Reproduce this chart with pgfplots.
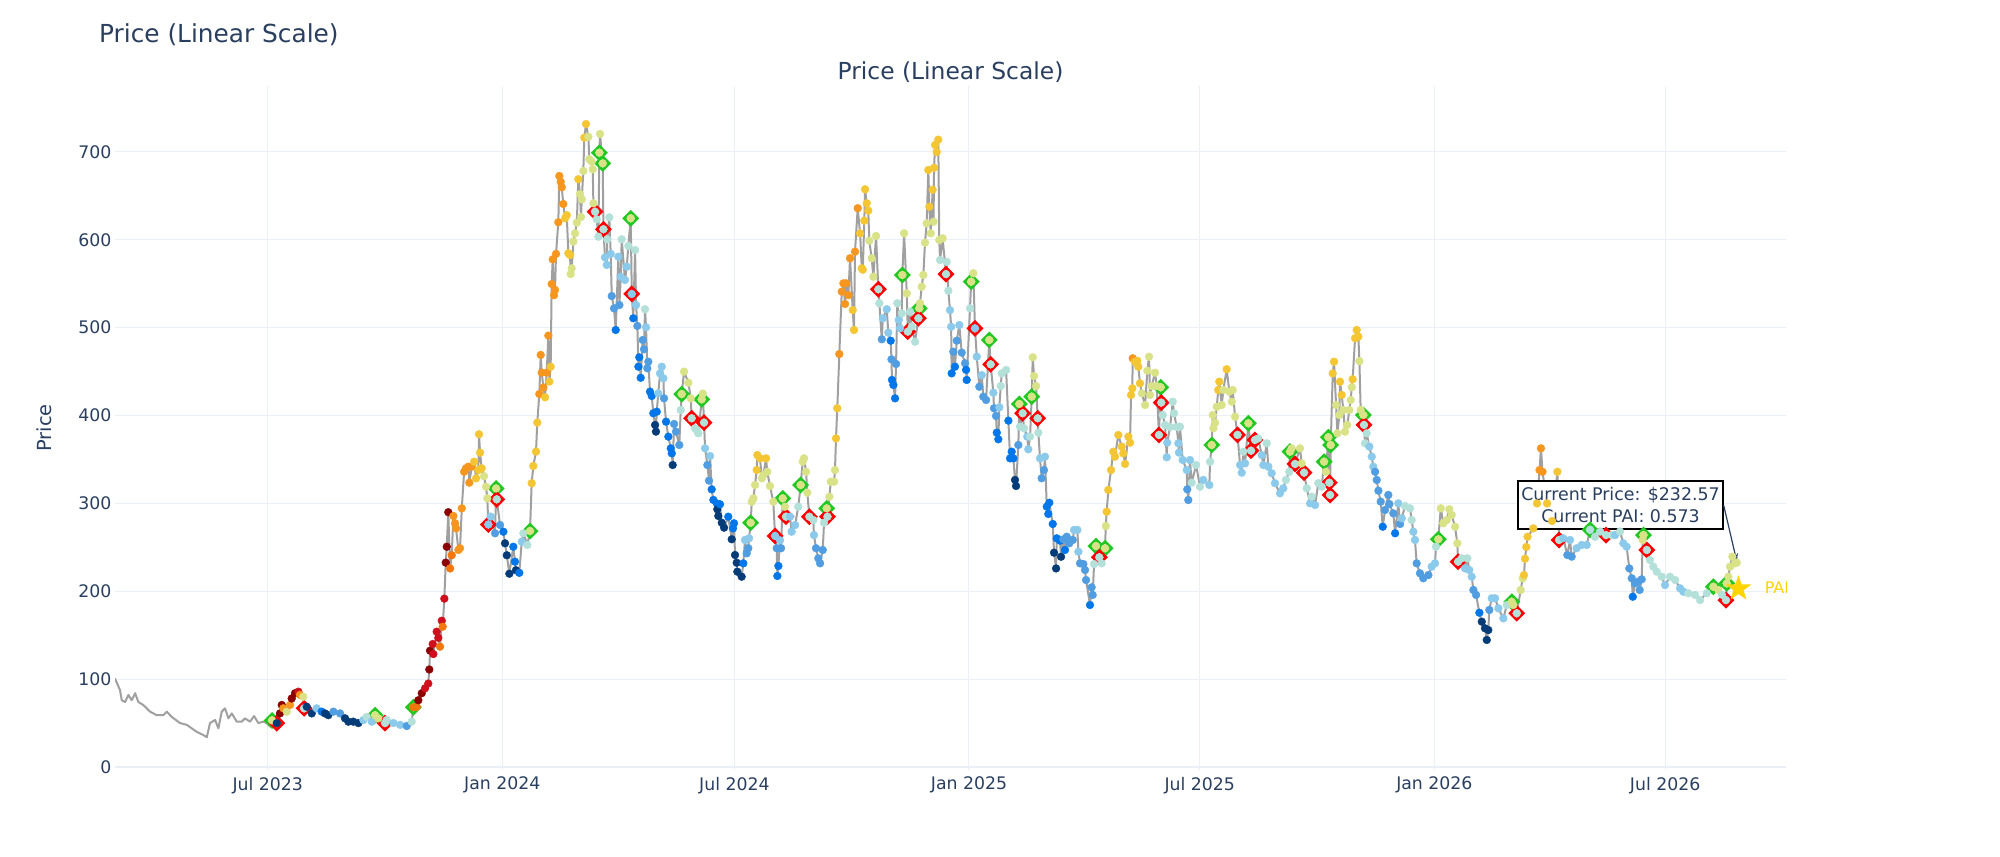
\documentclass[border=0pt]{standalone}
\usepackage{fontspec}
\setmainfont{DejaVu Sans}
\usepackage{pgfplots}
\pgfplotsset{compat=1.18}
\usepackage{pgfplotstable}
\usetikzlibrary{arrows.meta}

\definecolor{txt}{RGB}{42,63,95}
\definecolor{gridc}{RGB}{235,240,248}
\definecolor{lineg}{RGB}{160,160,160}
\definecolor{cDR}{RGB}{139,0,0}
\definecolor{cR}{RGB}{206,16,30}
\definecolor{cDO}{RGB}{245,118,10}
\definecolor{cO}{RGB}{247,150,30}
\definecolor{cG}{RGB}{244,198,52}
\definecolor{cYG}{RGB}{218,226,135}
\definecolor{cPC}{RGB}{180,224,218}
\definecolor{cLB}{RGB}{140,202,235}
\definecolor{cMB}{RGB}{80,158,225}
\definecolor{cB}{RGB}{0,118,235}
\definecolor{cDB}{RGB}{5,60,120}
\definecolor{buyc}{RGB}{34,200,34}
\definecolor{sellc}{RGB}{255,0,0}
\definecolor{starc}{RGB}{255,212,0}

\pgfdeclareplotmark{fstar}{%
 \pgfpathmoveto{\pgfpointpolar{90}{\pgfplotmarksize}}%
 \pgfpathlineto{\pgfpointpolar{126}{0.4\pgfplotmarksize}}%
 \pgfpathlineto{\pgfpointpolar{162}{\pgfplotmarksize}}%
 \pgfpathlineto{\pgfpointpolar{198}{0.4\pgfplotmarksize}}%
 \pgfpathlineto{\pgfpointpolar{234}{\pgfplotmarksize}}%
 \pgfpathlineto{\pgfpointpolar{270}{0.4\pgfplotmarksize}}%
 \pgfpathlineto{\pgfpointpolar{306}{\pgfplotmarksize}}%
 \pgfpathlineto{\pgfpointpolar{342}{0.4\pgfplotmarksize}}%
 \pgfpathlineto{\pgfpointpolar{18}{\pgfplotmarksize}}%
 \pgfpathlineto{\pgfpointpolar{54}{0.4\pgfplotmarksize}}%
 \pgfpathclose\pgfusepathqfill}

\newcommand\tickfont{\fontsize{17.3bp}{20.8bp}\selectfont}
\newcommand\labfont{\fontsize{19.4bp}{23bp}\selectfont}
\newcommand\annfont{\fontsize{17.4bp}{22bp}\selectfont}

% x = days since 2023-01-01, p = price
\pgfplotstableread{
d p
61.1 101
65.1 87.6
66.5 76
69.1 74
71.7 82
74.3 76
77.0 84
79.5 74
83.4 70.6
88.7 63
93.9 59
99.1 59
101.8 63
105.7 57
112.2 50
117.5 48
121.4 44
125.3 40
130.5 36.4
133.2 33.8
135.7 50
139.7 53.5
142.3 44
144.9 63
147.5 66.8
150.1 55.4
152.8 61
156.7 51.6
160.6 51.6
163.2 55.4
167.1 51.6
170.3 58
173.6 50
177.5 51.6
180.2 50
182.8 46
184.4 53
}\pretab

\pgfplotstableread{
d p c
184.4 53 YG
188.1 50 DB
190.6 61 DR
192.0 70.6 DR
193.2 66.8 O
195.9 63 YG
198.5 70.6 O
199.8 78 DR
202.4 84 DR
205.0 85.7 R
206.3 82 O
208.9 80 YG
209.5 66.8 PC
211.6 68.6 DB
215.5 61 DB
219.4 66.8 LB
223.3 63 B
225.9 61 DB
228.5 59 DB
232.5 63 MB
237.7 61 MB
241.6 55.4 DB
244.2 51.6 DB
248.1 51.6 DB
252.1 50 DB
256.0 53.5 LB
258.6 57 PC
262.6 51.6 LB
265.2 59 YG
267.7 55.4 YG
273.0 50 PC
274.3 53.5 PC
279.5 50 LB
284.8 48 LB
290.0 46.7 MB
293.9 51.6 PC
295.2 68 DO
297.9 68.6 DO
299.1 76 DR
301.8 84 DR
304.4 89.6 R
306.9 95 R
307.7 111 DR
308.3 132.4 DR
310.4 140 R
310.9 128.6 R
313.5 154 R
314.8 147 R
316.1 137 DO
317.5 166.5 R
318.2 159.7 DO
319.5 191.6 R
320.6 232.6 DR
321.4 250.7 DR
322.6 290 DR
324.0 226 DO
325.3 241 DO
326.6 285.7 O
327.9 277.4 O
328.7 271.6 O
330.5 247 O
331.8 249 O
333.2 294.4 O
335.0 336 O
336.5 340 O
338.3 341.8 O
339.1 323.6 O
341.0 341.8 O
342.8 347.5 G
344.4 328.6 G
346.2 338 G
346.7 378.7 G
347.5 357.8 G
348.8 340 G
350.6 331 YG
352.2 319 YG
353.2 305.8 YG
354.0 276 LB
355.9 285 LB
359.3 266 MB
360.1 317 YG
360.6 304.7 PC
363.2 275.4 MB
365.8 267.8 B
367.1 254.6 DB
368.5 241 DB
370.5 220 DB
373.6 250.7 B
374.9 233.7 B
375.7 224 DB
378.3 221 B
380.2 256.4 LB
381.5 266 PC
384.6 252.7 PC
386.7 268.6 YG
388.0 323 G
389.3 342.6 G
391.4 359 G
392.4 392 G
394.0 424.5 O
395.1 469 O
395.9 448.8 O
397.2 432 O
398.5 420.8 G
399.8 448.8 O
401.1 491 O
401.9 438.6 G
402.9 455.6 G
403.7 549.7 O
404.5 577.8 O
405.5 537 O
406.3 543 O
407.1 584 O
408.9 620 O
409.7 672.7 O
410.8 666 O
411.6 659.8 O
412.8 640.8 O
414.2 624.5 G
415.5 628 G
416.8 584.7 G
418.1 582.7 G
418.6 561 YG
419.4 567.6 YG
420.7 598 YG
422.0 607.4 YG
423.4 619.5 YG
424.6 669 G
425.9 652 YG
426.7 626 YG
427.3 646 YG
428.5 678.4 YG
429.3 716.3 G
430.6 731.8 G
432.5 717.4 YG
433.2 691.7 YG
435.1 689 YG
435.9 680.3 YG
436.4 641.6 YG
437.7 632 PC
439.0 623.4 PC
440.3 603.6 PC
441.1 699.2 YG
441.6 720.5 YG
443.7 687 YG
444.3 612 PC
445.5 580 LB
446.9 571.4 LB
447.3 600.6 PC
448.9 625.6 PC
450.0 584 LB
450.8 536 MB
452.6 522 MB
453.9 497.4 B
456.0 580.8 LB
456.8 525.8 MB
457.9 558 LB
458.6 600.6 PC
461.2 554.3 LB
462.6 569.4 LB
463.8 593 PC
465.7 624.5 YG
466.5 538.4 LB
467.7 510.7 B
469.1 588.4 PC
469.9 525.8 LB
470.9 502 MB
471.7 455.6 B
472.4 466.3 B
473.5 443 B
475.1 486 MB
476.1 475.4 MB
476.9 521 PC
477.7 500.5 LB
478.7 453.8 MB
479.5 461.3 MB
480.8 427.2 B
482.2 422.3 B
483.4 402.6 B
484.8 389.3 DB
485.5 381.7 DB
486.1 404.4 B
487.3 425.3 LB
488.7 448 LB
490.0 455.6 LB
491.3 442.4 LB
491.8 419.6 MB
493.4 393 B
495.2 376 B
497.1 362.7 B
497.9 357 B
498.6 343.7 DB
499.7 390.4 MB
501.2 381.7 MB
503.8 366.5 MB
504.9 406.3 PC
505.7 424.5 YG
507.5 450 YG
510.9 437.4 YG
512.8 419.6 YG
513.5 396.9 PC
516.1 385.5 PC
517.5 383.6 PC
518.7 379.8 PC
521.4 418.5 YG
522.2 425 YG
523.2 392 PC
524.0 362.7 LB
525.8 343.7 MB
527.1 325.9 MB
527.9 354 LB
529.2 316 B
530.5 304 B
533.2 300 B
533.6 293.3 DB
534.4 285.7 DB
535.7 299 B
537.1 278 DB
538.9 272.4 DB
542.2 284.9 B
544.9 259.2 DB
545.9 271.6 B
546.7 277.4 B
547.5 241.3 DB
548.8 232.5 DB
549.3 222.3 DB
552.7 216.6 DB
554.0 231.8 B
555.3 258.4 LB
556.7 243.2 MB
557.9 249 MB
558.5 260.3 LB
559.8 278 YG
560.6 302 YG
561.9 305.8 YG
563.2 321 YG
564.5 338 G
565.0 355 G
567.1 351.3 G
568.5 328.6 YG
569.7 332.3 YG
571.8 351.3 G
572.8 336 YG
574.9 319.8 YG
577.5 302 YG
578.9 263 LB
580.2 249 MB
580.7 217.4 B
581.5 228.8 B
582.8 258 LB
583.6 249 MB
584.9 305.8 YG
586.7 296.3 YG
587.5 284.9 PC
590.6 284.9 LB
591.9 267.8 LB
594.6 275.4 LB
597.1 296.3 PC
599.0 321 YG
600.6 347.5 YG
601.6 351.3 YG
603.2 336 YG
604.2 312.2 YG
605.8 284.9 PC
608.9 281.1 PC
609.4 264 LB
611.0 249 MB
612.8 237.5 MB
614.2 231.8 MB
616.3 247 MB
617.3 278 PC
619.4 294.4 YG
620.0 284.9 PC
621.5 307.6 YG
622.6 324.7 YG
625.2 324.7 YG
625.9 338 YG
626.7 374 G
627.7 408.3 G
629.3 470 O
631.2 541 O
632.5 550.5 O
633.8 527 O
634.6 550.5 O
636.4 537 O
637.7 579 O
639.8 520 G
640.8 497.4 G
641.6 586.5 O
643.7 636 O
645.6 607.4 G
646.9 567.6 G
647.7 566 G
648.9 621.8 G
649.5 657.5 G
650.8 641.6 G
652.0 633.2 G
652.8 599 YG
654.7 579 YG
656.0 558 YG
658.1 604.4 YG
659.9 543.7 PC
660.7 527.8 PC
662.6 486.8 MB
663.4 510.7 LB
666.5 521 LB
667.7 494.4 LB
669.6 485.2 B
670.2 464 MB
670.6 440.5 B
671.7 434.8 B
673.0 419.6 B
673.8 458.7 MB
674.8 527.8 PC
675.9 508.8 LB
676.9 499.3 LB
678.3 516.4 PC
678.7 560 YG
680.1 607.4 YG
682.2 539 YG
683.0 495.5 PC
684.8 518.2 PC
686.1 501.2 PC
688.7 484 PC
691.3 510.7 PC
692.0 522 YG
692.6 527.8 YG
693.9 546.7 YG
695.2 560 YG
696.5 596.7 YG
697.8 618.8 YG
699.1 679.5 G
699.9 637.7 G
701.0 607.4 YG
702.5 657 G
703.2 620.6 YG
703.6 682 G
704.4 708 G
705.7 700 G
706.9 714 G
707.7 599.8 YG
708.3 577 PC
710.3 601.7 YG
713.0 561 PC
713.5 575 PC
714.8 542 PC
716.1 520 LB
717.0 501 LB
717.4 448 B
718.7 472.7 MB
720.0 455.6 B
721.4 485.2 MB
723.4 503 LB
725.3 471.6 MB
727.9 459.5 MB
728.7 452 B
729.2 440.5 B
731.8 522 PC
732.7 552.4 YG
734.4 562 YG
735.7 499.3 LB
737.1 467 LB
739.1 432.8 MB
741.0 446 LB
742.2 421.5 MB
744.4 417.7 MB
746.9 486 YG
748.0 458.3 PC
750.1 426 LB
750.6 408.3 MB
752.2 399.5 MB
752.8 380.5 B
754.0 373 B
754.8 409.4 LB
755.9 433.6 PC
756.7 448 PC
760.1 451.9 PC
761.9 394.2 B
763.2 351.3 B
764.5 358.9 B
765.8 351.3 B
767.1 326.7 DB
767.9 319.8 DB
769.7 366.5 MB
770.5 413.2 YG
771.0 387.3 PC
773.1 402.6 PC
774.2 385.5 PC
776.7 376 LB
777.5 361.6 LB
778.9 376 PC
780.2 421.5 YG
781.0 466.3 YG
782.0 445 YG
783.6 433.6 YG
784.9 396.9 PC
785.4 380.5 PC
786.7 351.3 LB
788.0 328.6 MB
789.8 338 MB
790.6 353.2 LB
792.0 296.3 B
793.2 288 B
794.0 300.8 B
796.7 276.6 B
797.7 243.9 DB
799.3 226 DB
799.8 260.3 B
802.4 257.6 B
803.2 239.3 DB
805.0 259.2 MB
806.3 247 B
807.7 262.1 MB
809.7 254.6 MB
812.4 258.4 MB
813.4 269.8 LB
816.0 269.8 LB
816.8 245 LB
818.1 231.8 MB
820.7 231 MB
822.0 224.2 MB
822.8 212.8 MB
825.9 184.4 B
827.2 204.5 MB
828.0 195.8 MB
829.1 231 PC
830.6 251.5 YG
833.2 238.7 PC
835.1 231.8 PC
837.7 249 YG
838.3 274.3 YG
839.0 290.6 G
840.3 315.3 G
842.4 338 G
844.2 358.9 G
845.5 353.2 G
848.1 377.9 G
850.8 364.6 G
852.0 357 G
853.4 344.9 G
856.0 376 G
857.3 369.1 G
858.1 423.4 G
859.1 431 G
859.4 465.2 O
861.2 461.3 G
863.0 462.4 G
863.8 455.6 G
865.1 436.7 G
866.5 425.3 YG
869.1 412 YG
870.9 451 YG
872.2 467 YG
873.0 423.4 YG
874.3 433.6 YG
876.9 448.8 YG
878.2 433.6 YG
880.0 377.9 PC
881.4 432.2 YG
881.8 414.7 PC
882.9 400.6 PC
884.8 389.3 PC
886.1 352.5 LB
886.5 369.1 LB
888.7 387 PC
890.8 415.8 PC
891.8 402.6 PC
893.9 387 PC
895.2 368.4 LB
895.7 357.8 LB
896.5 387.3 PC
898.6 349.4 LB
901.8 338 LB
902.2 316 MB
903.0 303.9 MB
904.3 349.4 LB
905.7 323.6 PC
909.1 343.7 PC
912.2 319 PC
914.8 326.7 LB
919.5 321 LB
920.1 347.5 PC
921.4 366.5 YG
922.2 400.6 YG
922.7 385.5 YG
924.0 391.9 YG
925.3 410 YG
926.5 429.1 G
927.3 438.6 G
929.2 412 YG
930.5 429.1 YG
933.1 452.7 G
935.2 427.2 YG
937.1 415.8 YG
937.8 429.1 YG
939.7 398.7 YG
941.6 378 PC
943.6 343.7 LB
944.9 335 LB
946.2 358.9 PC
947.5 345.6 LB
950.1 391.2 YG
952.2 360 PC
955.3 372.2 PC
957.9 374 PC
960.6 355 LB
961.9 343.7 LB
964.5 368.4 PC
965.8 341.8 LB
968.4 334.3 LB
971.0 323 LB
974.9 311.5 LB
977.5 317.2 LB
979.6 326.7 PC
982.2 336 PC
982.8 358.9 YG
984.1 362.7 YG
986.7 344.9 PC
990.6 362.7 YG
991.9 345.6 YG
993.8 335 PC
995.9 317.2 PC
998.5 300.1 LB
999.8 307.6 PC
1002.4 298.2 LB
1005.0 323 PC
1007.7 319 PC
1009.5 347.5 YG
1011.0 336 YG
1012.8 375.3 YG
1013.6 323.6 PC
1014.2 309.6 PC
1014.7 366.5 YG
1016.3 448 G
1017.3 461.3 G
1018.9 412 YG
1019.9 379.8 YG
1021.5 400.6 YG
1022.0 438.6 G
1023.3 423.4 G
1024.6 406.3 YG
1025.9 381.7 YG
1027.7 389.3 YG
1029.3 406.3 YG
1030.4 417.7 YG
1031.2 432.2 YG
1031.9 441.3 G
1033.8 488 G
1035.1 497.4 G
1036.4 489.8 G
1037.2 462 YG
1038.2 406.3 YG
1040.3 400.6 YG
1040.8 389.3 PC
1041.6 368.4 PC
1042.9 379.8 PC
1045.0 364.6 LB
1046.9 353.2 LB
1048.1 341.8 LB
1049.5 336 MB
1050.8 326.7 MB
1052.1 314.5 MB
1053.9 302 MB
1055.5 273.5 B
1057.3 292.5 MB
1059.9 309.6 MB
1060.7 299.3 MB
1063.8 288.7 MB
1065.2 266 B
1067.7 300.1 LB
1069.1 276.6 MB
1070.4 283 LB
1073.0 297 PC
1076.9 294.4 PC
1078.2 281.1 PC
1079.5 267.8 LB
1080.8 258.4 LB
1082.1 231.8 MB
1084.7 220.5 MB
1087.3 214.8 MB
1091.3 218.5 MB
1093.9 228 LB
1096.5 231.8 LB
1097.3 250.7 PC
1099.1 259.2 YG
1101.0 294.4 YG
1103.0 277.4 YG
1105.7 281 YG
1107.7 293.3 YG
1109.6 286.8 YG
1112.2 273.5 YG
1114.0 254.6 YG
1114.6 233.7 PC
1117.5 237.5 PC
1120.1 226 LB
1121.9 237.5 PC
1123.4 224.2 LB
1125.3 216.6 LB
1126.6 201.5 MB
1128.7 195.8 MB
1131.3 175.6 B
1133.2 165.4 DB
1135.7 157.9 DB
1137.1 144.6 DB
1138.3 155.9 DB
1139.1 178.7 MB
1141.0 192 LB
1143.6 192 LB
1146.2 180.6 LB
1150.1 169.2 LB
1152.8 184.4 PC
1156.7 188.1 YG
1157.9 184.4 YG
1160.6 175 PC
1163.7 201.5 YG
1165.3 214.8 YG
1166.3 218.5 G
1167.1 237 G
1168.1 250.4 G
1169.1 262.1 G
1173.6 271.6 G
1176.5 300 G
1178.5 338 O
1179.6 362.7 O
1180.8 336 O
1184.4 300 G
1188.3 280 G
1192.5 336 G
1193.8 258.4 PC
1197.1 260.3 LB
1200.3 241.3 MB
1202.4 258.4 LB
1203.7 239.4 MB
1207.6 249 LB
1211.6 252.7 LB
1215.5 252.7 LB
1218.1 270 PC
1222.0 262 PC
1226.0 268 PC
1230.6 264 PC
1235.1 264 PC
1237.7 264 LB
1241.6 268 PC
1244.2 254.6 LB
1246.8 250.7 LB
1248.9 226 MB
1250.8 214.8 MB
1251.6 193.8 B
1253.4 209.1 MB
1256.0 211 MB
1257.0 201.5 MB
1258.6 213.6 MB
1259.4 258.4 YG
1260.0 264 YG
1262.6 247 PC
1265.1 235.6 PC
1267.7 228 PC
1270.4 222.3 PC
1274.3 216.6 PC
1276.9 207.1 LB
1280.8 216.6 PC
1284.8 212.8 PC
1288.7 203.4 LB
1291.3 199.5 LB
1295.2 197.7 PC
1300.5 195.8 PC
1304.4 190 PC
1309.6 197.7 PC
1314.8 205.2 YG
1318.7 201.5 YG
1321.6 196 PC
1324.7 190 PC
1325.3 209 YG
1326.6 216.6 YG
1327.9 228 YG
1329.7 239.4 YG
1331.8 231.8 YG
1333.2 232.6 YG
}\maintab

\pgfplotstableread{
d p
184.4 53
265.2 59
295.2 68
360.1 317
386.7 268.6
441.1 699.2
443.7 687
465.7 624.5
505.7 424.5
521.4 418.5
559.8 278
584.9 305.8
599.0 321
619.4 294.4
678.7 560
692.0 522
732.7 552.4
746.9 486
770.5 413.2
780.2 421.5
830.6 251.5
837.7 249
881.4 432.2
921.4 366.5
950.1 391.2
982.8 358.9
1009.5 347.5
1012.8 375.3
1014.7 366.5
1040.3 400.6
1099.1 259.2
1156.7 188.1
1218.1 270
1260.0 264
1314.8 205.2
1325.3 209
}\buytab

\pgfplotstableread{
d p
188.1 50
209.5 66.8
273.0 50
354.0 276
360.6 304.7
437.7 632
444.3 612
466.5 538.4
513.5 396.9
523.2 392
578.9 263
587.5 284.9
605.8 284.9
620.0 284.9
659.9 543.7
683.0 495.5
691.3 510.7
713.0 561
735.7 499.3
748.0 458.3
773.1 402.6
784.9 396.9
833.2 238.7
880.0 377.9
881.8 414.7
941.6 378
952.2 360
955.3 372.2
986.7 344.9
993.8 335
1013.6 323.6
1014.2 309.6
1040.8 389.3
1114.6 233.7
1160.6 175
1193.8 258.4
1230.6 264
1262.6 247
1324.7 190
}\selltab

\begin{document}
\begin{tikzpicture}[x=1bp,y=1bp]
\useasboundingbox (0,0) rectangle (2000,857);
\fill[white] (0,0) rectangle (2000,857);
\begin{axis}[
  at={(115bp,87bp)}, anchor=south west,
  scale only axis, width=1671bp, height=684bp,
  xmin=61.2, xmax=1371.8, ymin=-3.4, ymax=775.1,
  axis line style={draw=none},
  tick style={draw=none},
  xtick={181,365,547,731,912,1096,1277},
  xticklabels={Jul 2023,Jan 2024,Jul 2024,Jan 2025,Jul 2025,Jan 2026,Jul 2026},
  ytick={0,100,200,300,400,500,600,700},
  /pgf/number format/assume math mode=true,
  grid=major,
  major grid style={draw=gridc, line width=1bp},
  extra y ticks={0}, extra y tick labels={},
  extra y tick style={major grid style={draw=gridc, line width=2bp}},
  ticklabel style={font=\tickfont, text=txt},
  yticklabel style={anchor=east, inner sep=0pt, xshift=-3.3bp},
  xticklabel style={anchor=north, inner sep=0pt, yshift=-6.7bp},
  ylabel={Price},
  ylabel style={font=\labfont, text=txt, at={(axis description cs:-0.0422,0.5)}, anchor=center},
]
\addplot[lineg, line width=2bp, line join=round, mark=none] table[x=d,y=p] {\pretab};
\addplot[lineg, line width=2bp, line join=round, mark=none] table[x=d,y=p] {\maintab};
\addplot[only marks, mark=square*, mark size=4.6bp, mark options={draw=buyc, fill=white, line width=2.8bp, rotate=45, line join=miter}] table[x=d,y=p] {\buytab};
\addplot[only marks, mark=square*, mark size=4.6bp, mark options={draw=sellc, fill=white, line width=2.8bp, rotate=45, line join=miter}] table[x=d,y=p] {\selltab};
\addplot[scatter, only marks, mark=*, mark size=3.9bp, scatter src=explicit symbolic,
  scatter/classes={
    DR={draw=cDR,fill=cDR}, R={draw=cR,fill=cR}, DO={draw=cDO,fill=cDO},
    O={draw=cO,fill=cO}, G={draw=cG,fill=cG}, YG={draw=cYG,fill=cYG},
    PC={draw=cPC,fill=cPC}, LB={draw=cLB,fill=cLB}, MB={draw=cMB,fill=cMB},
    B={draw=cB,fill=cB}, DB={draw=cDB,fill=cDB}}]
  table[x=d,y=p,meta=c] {\maintab};
\addplot[only marks, mark=fstar, mark size=13.5bp, color=starc, fill=starc] coordinates {(1334.5,203)};
\node[anchor=west, text=starc, font=\fontsize{16bp}{19bp}\selectfont, inner sep=0pt] at (axis cs:1355,204.3) {PAI};
\node[draw=black, line width=1.2bp, fill=white, minimum width=205bp, minimum height=48bp, inner sep=0pt, align=center, font=\annfont, text=txt] (ann) at (axis cs:1242.0,298.2) {Current Price: \$232.57\\Current PAI: 0.573};
\draw[-{Stealth[length=8bp,width=6bp]}, line width=1.2bp, color=txt] (ann.east) -- (axis cs:1333.2,234);
\end{axis}
\node[anchor=base west, font=\fontsize{24.8bp}{30bp}\selectfont, text=txt, inner sep=0pt] at (99,814.3) {Price (Linear Scale)};
\node[anchor=base, font=\fontsize{23.4bp}{28bp}\selectfont, text=txt, inner sep=0pt] at (950.5,777.7) {Price (Linear Scale)};
\end{tikzpicture}
\end{document}
